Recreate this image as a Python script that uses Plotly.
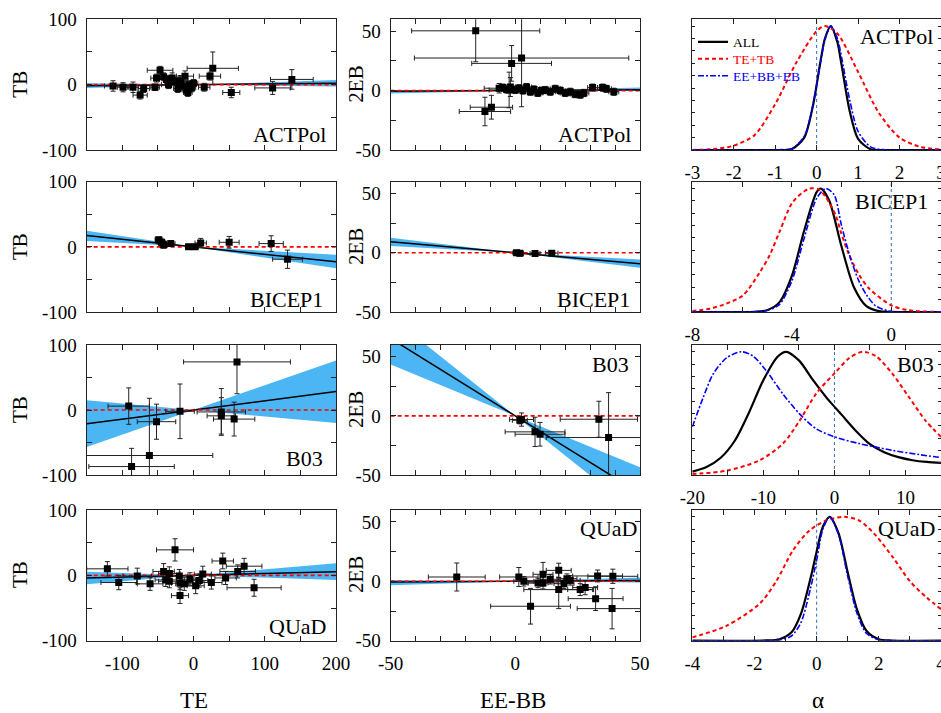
import plotly.graph_objects as go

# ---------------- data ----------------
# TB vs TE (column 1)
actpol_te = [-113, -99, -85, -75, -70, -54, -52, -47, -42, -38, -35, -30, -26, -22, -18, -15, -12, -10, -8, -6, -3, 0, 15, 23, 27, 53, 111, 138]
actpol_tb = [-2, -4, -4, -16, -6, -4, 10, 22, 12, 8, 0, 10, 5, -6, 6, -2, 13, -8, -12, 0, -5, 2, -4, 13, 25, -12, -5, 8]
actpol_te_err = [12, 8, 8, 10, 8, 6, 8, 18, 10, 10, 10, 10, 8, 6, 10, 8, 12, 6, 6, 6, 6, 6, 8, 15, 36, 12, 25, 30]
actpol_tb_err = [8, 7, 8, 6, 6, 5, 6, 6, 6, 6, 6, 8, 6, 6, 8, 6, 8, 6, 6, 6, 6, 6, 6, 6, 25, 8, 10, 15]

bicep_te = [-49, -45, -42, -32, -7, 2, 10, 50, 109, 132]
bicep_tb = [11, 7, 3, 5, 0, 0, 6, 7, 5, -19]
bicep_te_err = [5, 6, 5, 6, 4, 5, 8, 14, 17, 21]
bicep_tb_err = [4, 5, 5, 3, 2, 3, 7, 9, 12, 14]

b03_te = [-91, -87, -62, -52, -19, 39, 39, 61, 57]
b03_tb = [6, -87, -70, -18, -2, -3, -9, 74, -14]
b03_te_err = [29, 60, 89, 27, 20, 34, 20, 75, 29]
b03_tb_err = [28, 28, 88, 27, 42, 36, 28, 49, 26]

quad_te = [-121, -105, -79, -61, -42, -39, -34, -34, -26, -20, -19, -19, -13, -5, 3, 8, 13, 25, 41, 45, 62, 71, 85]
quad_tb = [10, -11, -1, -13, 6, -7, 3, -9, 39, -1, -12, -31, -13, -6, -16, -8, 2, -11, 22, -4, 6, 14, -19]
quad_te_err = [29, 25, 20, 18, 15, 15, 15, 15, 26, 12, 12, 12, 12, 12, 12, 12, 12, 15, 15, 15, 25, 25, 38]
quad_tb_err = [11, 11, 12, 10, 12, 10, 10, 10, 17, 10, 10, 12, 10, 10, 12, 10, 12, 10, 12, 10, 10, 12, 13]

# 2EB vs EE-BB (column 2)
actpol_eebb = [-15.9, -1.5, 2.5, -12.2, -9.6, -2.5, -6.5, -5, -3.5, -2, 0, 1.5, 3, 4.5, 6, 7.5, 9, 10.5, 12, 14, 16, 18, 20, 22, 24, 26, 27.5, 31, 35, 36.5, 39.5]
actpol_eb = [50.3, 22.9, 27.4, -17.6, -14.0, 0.5, 2, 2.5, 1, 3, 0.5, 2, 0, 3, -1, 1, -2, 0, 0.5, -1, 1.5, 0, -2, -1, -3, -3.5, -2, 2.5, 2.5, 1.5, -1]
actpol_eebb_err = [25.7, 16, 43, 10.3, 8.5, 8, 6, 2, 2, 2, 2, 2, 2, 2, 2, 2, 2, 2, 2, 2, 2, 2, 2, 2, 2, 2, 2, 2, 2, 2, 2]
actpol_eb_err = [26, 15, 41, 12, 10, 15, 4, 3, 3, 8, 3, 3, 3, 3, 3, 3, 3, 3, 3, 3, 3, 3, 3, 3, 3, 3, 3, 3, 3, 3, 3]

bicep_eebb = [0.5, 1.8, 7.9, 14.6]
bicep_eb = [0, -0.5, -0.6, -0.3]
bicep_eebb_err = [1.5, 1.5, 2, 2.5]
bicep_eb_err = [1, 1, 1, 1.5]

b03_eebb = [1.8, 2.5, 7.9, 9.9, 33.5, 37.4]
b03_eb = [-3.7, -3.1, -13.5, -15.5, -2.8, -18.3]
b03_eebb_err = [3, 4.8, 12, 10, 15.5, 25]
b03_eb_err = [3, 5.6, 12.4, 10, 15.2, 38]

quad_eebb = [-23.5, 1.4, 3.4, 6.1, 9.1, 11.1, 11.1, 14, 17.4, 17.4, 19.5, 20.7, 22, 26, 28, 32.2, 33, 38.8, 39.1]
quad_eb = [3.6, 3.6, 0, -21, -1.4, 5.9, -1.4, 1.7, 9.2, -7, -2, 2.2, 0.8, -7, -5.3, -14.6, 4.5, -23, 4.2]
quad_eebb_err = [11.4, 7.7, 4, 16, 4, 4, 6, 4, 5, 14, 4, 4, 4, 5, 5, 11, 10, 14, 10]
quad_eb_err = [11.8, 8, 4, 15, 4, 10, 5, 4, 6, 16, 4, 4, 4, 5, 6, 10, 5, 17, 6]

# best-fit slope and band slopes (low, high)
tb_fit_slope = [0.01, -0.115, 0.142, 0.028]
tb_band_lo = [-0.015, -0.165, -0.10, -0.036]
tb_band_hi = [0.035, -0.06, 0.38, 0.092]
eb_fit_slope = [0.013, -0.186, -1.31, 0.012]
eb_band_lo = [-0.005, -0.254, -1.68, -0.02]
eb_band_hi = [0.05, -0.115, -0.87, 0.065]

# likelihood curves (column 3), normalised to peak 1
act_all_a = [-3, -0.9, -0.6, -0.3, -0.1, 0.1, 0.2, 0.34, 0.5, 0.6, 0.8, 1.0, 1.3, 1.6, 3]
act_all_v = [0, 0, 0.007, 0.10, 0.34, 0.73, 0.90, 1.0, 0.87, 0.69, 0.31, 0.09, 0.006, 0, 0]
act_pol_v = [0, 0, 0.01, 0.11, 0.35, 0.72, 0.89, 1.0, 0.90, 0.75, 0.40, 0.15, 0.025, 0.003, 0]
act_tt_a = [-3, -2.5, -2, -1.5, -1, -0.5, 0, 0.2, 0.5, 1, 1.5, 2, 2.5, 3]
act_tt_v = [0.001, 0.007, 0.035, 0.12, 0.37, 0.70, 0.96, 1.0, 0.94, 0.63, 0.30, 0.10, 0.025, 0.005]

bic_all_a = [-8, -5.5, -5, -4.5, -4, -3.5, -3, -2.83, -2.5, -2, -1.5, -1, -0.5, 0, 2]
bic_all_v = [0, 0.002, 0.014, 0.078, 0.29, 0.66, 0.97, 1.0, 0.905, 0.53, 0.20, 0.047, 0.007, 0.001, 0]
bic_pol_a = [-8, -5.5, -5, -4.5, -4, -3.5, -3, -2.63, -2.3, -2, -1.63, -1.3, -1, -0.63, 0, 2]
bic_pol_v = [0, 0.002, 0.012, 0.06, 0.25, 0.60, 0.92, 1.0, 0.95, 0.70, 0.43, 0.25, 0.14, 0.05, 0.004, 0]
bic_tt_a = [-8, -7.29, -6.63, -5.96, -5.29, -4.89, -4.49, -3.96, -3.29, -2.89, -2.63, -2.23, -2.03, -1.69, -1.29, -0.89, 0, 0.71, 2]
bic_tt_v = [0.008, 0.027, 0.068, 0.135, 0.32, 0.46, 0.65, 0.89, 1.0, 0.99, 0.93, 0.78, 0.65, 0.46, 0.30, 0.19, 0.054, 0.014, 0]

b03_all_a = [-20, -18, -16, -14, -12, -10, -8, -6.8, -5, -3, -1, 1, 3, 5, 7, 9, 11, 13, 15]
b03_all_v = [0.027, 0.065, 0.14, 0.28, 0.51, 0.77, 0.96, 1.0, 0.93, 0.77, 0.62, 0.49, 0.36, 0.25, 0.185, 0.145, 0.12, 0.106, 0.099]
b03_pol_a = [-20, -18.46, -17.06, -15.19, -13.08, -11.45, -9.58, -7.24, -4.91, -2.57, 0.09, 3.5, 8.18, 11.9, 15]
b03_pol_v = [0.39, 0.63, 0.82, 0.95, 1.0, 0.965, 0.845, 0.657, 0.496, 0.375, 0.308, 0.255, 0.2, 0.166, 0.142]
b03_tt_a = [-20, -15.19, -10.51, -7.24, -4.91, -2.57, 0.09, 2.1, 3.97, 5.84, 8.18, 10.51, 12.85, 15]
b03_tt_v = [0.008, 0.035, 0.12, 0.255, 0.44, 0.66, 0.83, 0.95, 1.0, 0.965, 0.82, 0.63, 0.44, 0.31]

quad_all_a = [-4, -1.6, -1.2, -0.8, -0.5, -0.2, 0, 0.2, 0.42, 0.7, 1.0, 1.3, 1.6, 2.0, 2.4, 4]
quad_all_v = [0, 0.002, 0.012, 0.07, 0.22, 0.5, 0.72, 0.92, 1.0, 0.87, 0.55, 0.25, 0.08, 0.012, 0.001, 0]
quad_pol_v = [0, 0.001, 0.006, 0.04, 0.15, 0.42, 0.65, 0.9, 1.0, 0.86, 0.52, 0.22, 0.06, 0.008, 0.001, 0]
quad_tt_a = [-4, -2.9, -1.83, -1.3, -0.76, -0.23, 0.3, 0.89, 1.37, 1.9, 2.46, 3.0, 3.53, 4.0]
quad_tt_v = [0.027, 0.12, 0.30, 0.48, 0.73, 0.89, 0.97, 1.0, 0.97, 0.85, 0.67, 0.48, 0.35, 0.255]

experiments = ["ACTPol", "BICEP1", "B03", "QUaD"]
legend_names = ["ALL", "TE+TB", "EE+BB+EB"]
alpha_ranges = [[-3, 3], [-8, 2], [-20, 15], [-4, 4]]
alpha_tickvals = [[-3, -2, -1, 0, 1, 2, 3], [-8, -6, -4, -2, 0, 2],
                  [-20, -15, -10, -5, 0, 5, 10, 15], [-4, -3, -2, -1, 0, 1, 2, 3, 4]]
alpha_ticktext = [["-3", "-2", "-1", "0", "1", "2", "3"], ["-8", "", "-4", "", "0", ""],
                  ["-20", "", "-10", "", "0", "", "10", ""], ["-4", "", "-2", "", "0", "", "2", "", "4"]]

# ---------------- layout helpers ----------------
FONT = "Liberation Serif, Times New Roman, serif"
W, H = 941, 713
BAND = "#4cb6f5"
col_px = [(86.7, 336.0), (390.7, 640.0), (692.3, 941.0)]
row_px = [(19.3, 150.0), (181.7, 312.0), (345.0, 475.0), (510.0, 640.7)]


def xdom(c):
    return [col_px[c][0] / W, min(1.0, col_px[c][1] / W)]


def ydom(r):
    return [1 - row_px[r][1] / H, 1 - row_px[r][0] / H]


def axname(r, c):
    i = r * 3 + c + 1
    return ("x" if i == 1 else f"x{i}"), ("y" if i == 1 else f"y{i}"), ("" if i == 1 else str(i))


fig = go.Figure()


def scatter_panel(r, c, xs, ys, xe, ye, fit, lo, hi, xr):
    xa, ya, _ = axname(r, c)
    x0, x1 = xr
    common = dict(xaxis=xa, yaxis=ya, showlegend=False, hoverinfo="skip")
    fig.add_trace(go.Scatter(x=[x0, 0, x1, x1, 0, x0], y=[lo * x0, 0, lo * x1, hi * x1, 0, hi * x0],
                             fill="toself", fillcolor=BAND, mode="lines", line=dict(width=0), **common))
    fig.add_trace(go.Scatter(x=[x0, x1], y=[fit * x0, fit * x1], mode="lines",
                             line=dict(color="black", width=1.5), **common))
    fig.add_trace(go.Scatter(x=[x0, x1], y=[0, 0], mode="lines",
                             line=dict(color="#ff0000", width=1.6, dash="4px,3px"), **common))
    fig.add_trace(go.Scatter(x=xs, y=ys, mode="markers",
                             marker=dict(symbol="square", size=7, color="black"),
                             error_x=dict(type="data", array=xe, thickness=1, width=2.5, color="#222"),
                             error_y=dict(type="data", array=ye, thickness=1, width=2.5, color="#222"),
                             **common))


def like_panel(r, a_all, v_all, a_tt, v_tt, a_pol, v_pol, legend):
    xa, ya, _ = axname(r, 2)
    fig.add_trace(go.Scatter(x=[0, 0], y=[0, 1.06], mode="lines", xaxis=xa, yaxis=ya,
                             line=dict(color="#2f6db5", width=1, dash="3px,3px"),
                             showlegend=False, hoverinfo="skip"))
    fig.add_trace(go.Scatter(x=a_all, y=v_all, mode="lines", xaxis=xa, yaxis=ya,
                             name=legend_names[0], legend="legend",
                             line=dict(color="black", width=2.2, shape="spline", smoothing=0.8),
                             showlegend=legend, hoverinfo="skip"))
    fig.add_trace(go.Scatter(x=a_tt, y=v_tt, mode="lines", xaxis=xa, yaxis=ya,
                             name='<span style="color:red">%s</span>' % legend_names[1], legend="legend2",
                             line=dict(color="red", width=2, dash="4px,3px", shape="spline", smoothing=0.8),
                             showlegend=legend, hoverinfo="skip"))
    fig.add_trace(go.Scatter(x=a_pol, y=v_pol, mode="lines", xaxis=xa, yaxis=ya,
                             name='<span style="color:blue">%s</span>' % legend_names[2], legend="legend3",
                             line=dict(color="blue", width=1.6, dash="6px,2px,2px,2px", shape="spline", smoothing=0.8),
                             showlegend=legend, hoverinfo="skip"))


tb_sets = [(actpol_te, actpol_tb, actpol_te_err, actpol_tb_err),
           (bicep_te, bicep_tb, bicep_te_err, bicep_tb_err),
           (b03_te, b03_tb, b03_te_err, b03_tb_err),
           (quad_te, quad_tb, quad_te_err, quad_tb_err)]
eb_sets = [(actpol_eebb, actpol_eb, actpol_eebb_err, actpol_eb_err),
           (bicep_eebb, bicep_eb, bicep_eebb_err, bicep_eb_err),
           (b03_eebb, b03_eb, b03_eebb_err, b03_eb_err),
           (quad_eebb, quad_eb, quad_eebb_err, quad_eb_err)]
like_sets = [(act_all_a, act_all_v, act_tt_a, act_tt_v, act_all_a, act_pol_v),
             (bic_all_a, bic_all_v, bic_tt_a, bic_tt_v, bic_pol_a, bic_pol_v),
             (b03_all_a, b03_all_v, b03_tt_a, b03_tt_v, b03_pol_a, b03_pol_v),
             (quad_all_a, quad_all_v, quad_tt_a, quad_tt_v, quad_all_a, quad_pol_v)]

for r in range(4):
    scatter_panel(r, 0, *tb_sets[r], tb_fit_slope[r], tb_band_lo[r], tb_band_hi[r], [-150, 200])
    scatter_panel(r, 1, *eb_sets[r], eb_fit_slope[r], eb_band_lo[r], eb_band_hi[r], [-50, 50])
    like_panel(r, *like_sets[r], legend=(r == 0))

tickfont = dict(family=FONT, size=19, color="black")
axis_common = dict(showline=True, linecolor="#222", linewidth=1.2, mirror="ticks", ticks="inside",
                   tickcolor="#222", tickwidth=1, ticklen=5, showgrid=False, zeroline=False,
                   tickfont=tickfont, ticklabelstandoff=5, automargin=False,
                   ticklabeloverflow="allow")

lay = {}
for r in range(4):
    for c in range(3):
        xa, ya, suf = axname(r, c)
        if c == 0:
            xr, yr = [-150, 200], [-100, 100]
            xv = [-150, -100, -50, 0, 50, 100, 150, 200]
            xt = ["", "-100", "", "0", "", "100", "", "200"] if r == 3 else [""] * len(xv)
            yv = [-100, -50, 0, 50, 100]
            yt = ["-100", "", "0", "", "100"]
            ylen = 5
        elif c == 1:
            xr, yr = [-50, 50], [-50, 60]
            xv = list(range(-50, 51, 10))
            xt = [("-50" if v == -50 else "0" if v == 0 else "50" if v == 50 else "") for v in xv] if r == 3 else [""] * len(xv)
            yv = [-50, -25, 0, 25, 50]
            yt = ["-50", "", "0", "", "50"]
            ylen = 5
        else:
            xr, yr = alpha_ranges[r], [0, 1.055]
            xv, xt = alpha_tickvals[r], alpha_ticktext[r]
            yv = [i / 10 for i in range(11)]
            yt = [""] * 11
            ylen = 3
        lay["xaxis" + suf] = dict(axis_common, domain=xdom(c), anchor=ya, range=xr,
                                  tickmode="array", tickvals=xv, ticktext=xt)
        lay["yaxis" + suf] = dict(axis_common, domain=ydom(r), anchor=xa, range=yr,
                                  tickmode="array", tickvals=yv, ticktext=yt, ticklen=ylen)

# annotations: panel labels and axis titles
ann = []
label_pos = [[(328, 135), (633, 135), (935, 36)],
             [(325, 299), (632, 299), (930, 201)],
             [(325, 458), (631, 364), (936, 364)],
             [(328, 626), (639, 528), (937, 528)]]
for r in range(4):
    for c in range(3):
        px, py = label_pos[r][c]
        ann.append(dict(x=px / W, y=1 - py / H, xref="paper", yref="paper", text=experiments[r],
                        showarrow=False, xanchor="right", yanchor="middle",
                        font=dict(family=FONT, size=22, color="black")))
row_centres = [84.7, 247, 410, 575]
for yc in row_centres:
    ann.append(dict(x=20 / W, y=1 - yc / H, xref="paper", yref="paper", text="TB", textangle=-90,
                    showarrow=False, xanchor="center", yanchor="middle",
                    font=dict(family=FONT, size=21, color="black")))
    ann.append(dict(x=356 / W, y=1 - yc / H, xref="paper", yref="paper", text="2EB", textangle=-90,
                    showarrow=False, xanchor="center", yanchor="middle",
                    font=dict(family=FONT, size=21, color="black")))
for txt, px in [("TE", 194), ("EE-BB", 513), ("α", 818)]:
    ann.append(dict(x=px / W, y=1 - 700 / H, xref="paper", yref="paper", text=txt,
                    showarrow=False, xanchor="center", yanchor="middle",
                    font=dict(family=FONT, size=23, color="black")))

leg_common = dict(x=693 / W, xanchor="left", yanchor="middle", bgcolor="rgba(0,0,0,0)",
                  borderwidth=0, itemwidth=30, font=dict(family=FONT, size=13.5, color="black"))

fig.update_layout(
    width=W, height=H, margin=dict(l=0, r=0, t=0, b=0, autoexpand=False),
    paper_bgcolor="white", plot_bgcolor="white",
    showlegend=True, hovermode=False,
    legend=dict(leg_common, y=1 - 42 / H),
    legend2=dict(leg_common, y=1 - 59 / H),
    legend3=dict(leg_common, y=1 - 76 / H),
    annotations=ann,
    **lay,
)

fig.write_html("out.html")
